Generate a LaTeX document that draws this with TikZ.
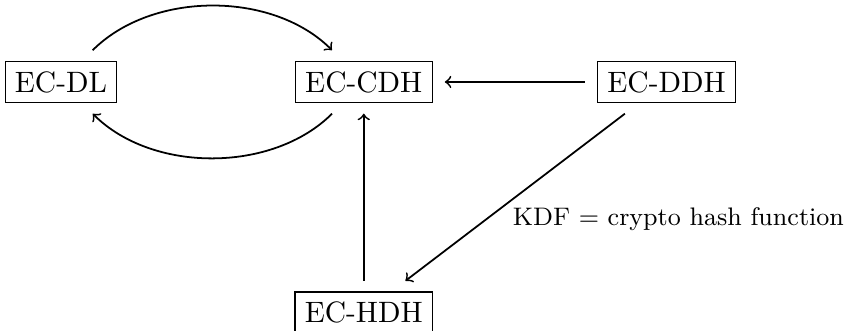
\documentclass[tikz,border=0pt]{standalone}
\usepackage{amsmath,amssymb}
\usetikzlibrary{arrows,positioning}
\tikzset{
    prob/.style={
        rectangle,
        draw=black,
        thin,
        inner sep=3.33pt,
        outer xsep=4.3pt,
        outer ysep=3.8pt,
    },
    every edge/.style={
        draw,
        ->,>=to,
        semithick
    },
    node distance=3.61cm,
  }

\begin{document}
\begin{tikzpicture}
    \useasboundingbox (0,0) rectangle (10.17,-3.945);
    \node [prob] (ecdl) at (0.727,-0.977) {EC-DL};
    \node [prob, right of=ecdl] (eccdh) {EC-CDH};
    \node [prob, right of=eccdh] (ecddh) {EC-DDH};
    \node [prob, below of=eccdh, node distance=2.75cm] (echdh) {EC-HDH};

    \draw (ecdl) edge[bend left=45, looseness=0.9] (eccdh);
    \draw (eccdh) edge[bend left=45, looseness=0.9] (ecdl);
    \draw (ecddh) edge (eccdh);
    \draw (echdh) edge (eccdh);
    \draw (ecddh) edge node[pos=0.5, anchor=north west, xshift=-4.4pt, font=\fontsize{8.6}{10}\selectfont] (kdf) {KDF = crypto hash function} (echdh);
\end{tikzpicture}
\end{document}
